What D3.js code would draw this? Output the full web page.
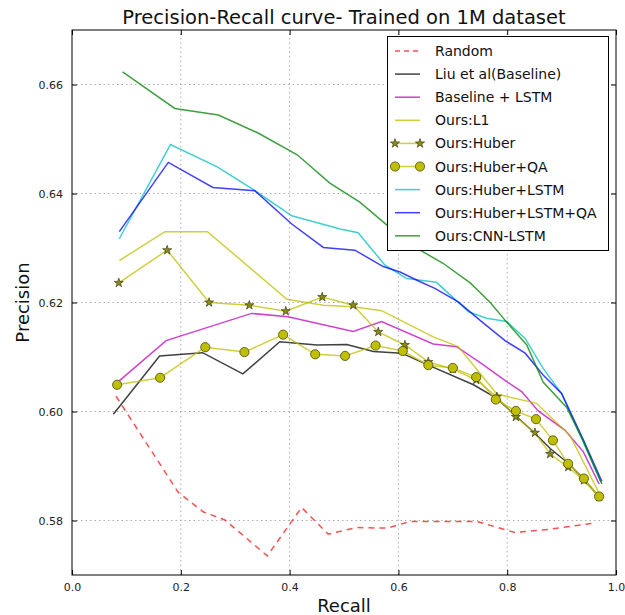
<!DOCTYPE html>
<html>
<head>
<meta charset="utf-8">
<script src="https://cdn.jsdelivr.net/npm/d3@7"></script>
<style>
  body { margin: 0; background: #fff; }
  svg { font-family: "DejaVu Sans", sans-serif; }
</style>
</head>
<body>
<div id="chart"></div>
<script>
// tick labels
var xTicks = [0.0, 0.2, 0.4, 0.6, 0.8, 1.0];
var yTicks = [0.58, 0.60, 0.62, 0.64, 0.66];

// series names, in legend order
var seriesNames = ["Random", "Liu et al(Baseline)", "Baseline + LSTM", "Ours:L1", "Ours:Huber",
                   "Ours:Huber+QA", "Ours:Huber+LSTM", "Ours:Huber+LSTM+QA", "Ours:CNN-LSTM"];

// values (recall, precision)
var randomRecall = [0.081, 0.195, 0.241, 0.281, 0.359, 0.422, 0.471, 0.523, 0.579, 0.621, 0.745, 0.814, 0.879, 0.958];
var randomPrecision = [0.6028, 0.5852, 0.5816, 0.5801, 0.5735, 0.5824, 0.5775, 0.5787, 0.5786, 0.5798, 0.5798, 0.5778, 0.5784, 0.5795];

var liuRecall = [0.076, 0.161, 0.240, 0.314, 0.382, 0.450, 0.505, 0.554, 0.606, 0.655, 0.738, 0.781, 0.818, 0.851, 0.879, 0.912, 0.940, 0.968];
var liuPrecision = [0.5995, 0.6102, 0.6108, 0.6069, 0.6128, 0.6122, 0.6123, 0.6110, 0.6107, 0.6085, 0.6049, 0.6024, 0.5990, 0.5960, 0.5932, 0.5905, 0.5877, 0.5844];

var lstmRecall = [0.083, 0.173, 0.330, 0.397, 0.517, 0.569, 0.664, 0.707, 0.753, 0.799, 0.827, 0.857, 0.906, 0.940, 0.969];
var lstmPrecision = [0.6053, 0.6130, 0.6180, 0.6174, 0.6147, 0.6165, 0.6124, 0.6119, 0.6088, 0.6055, 0.6036, 0.6001, 0.5966, 0.5926, 0.5867];

var l1Recall = [0.087, 0.171, 0.249, 0.395, 0.462, 0.517, 0.569, 0.664, 0.710, 0.781, 0.854, 0.885, 0.915, 0.969];
var l1Precision = [0.6277, 0.6330, 0.6330, 0.6206, 0.6195, 0.6192, 0.6185, 0.6137, 0.6119, 0.6032, 0.6015, 0.5985, 0.5957, 0.5850];

var huberRecall = [0.086, 0.175, 0.252, 0.326, 0.393, 0.460, 0.517, 0.563, 0.612, 0.655, 0.700, 0.743, 0.781, 0.816, 0.851, 0.879, 0.912, 0.941, 0.969];
var huberPrecision = [0.6236, 0.6296, 0.6200, 0.6195, 0.6184, 0.6210, 0.6195, 0.6146, 0.6122, 0.6091, 0.6078, 0.6058, 0.6027, 0.5990, 0.5961, 0.5922, 0.5898, 0.5874, 0.5843];

var huberQaRecall = [0.083, 0.162, 0.245, 0.317, 0.388, 0.447, 0.502, 0.558, 0.608, 0.655, 0.700, 0.743, 0.779, 0.816, 0.853, 0.884, 0.912, 0.941, 0.969];
var huberQaPrecision = [0.6049, 0.6062, 0.6118, 0.6109, 0.6141, 0.6105, 0.6102, 0.6121, 0.6111, 0.6085, 0.6080, 0.6063, 0.6022, 0.6001, 0.5986, 0.5947, 0.5904, 0.5877, 0.5844];

var huberLstmRecall = [0.087, 0.181, 0.267, 0.335, 0.404, 0.493, 0.526, 0.575, 0.615, 0.670, 0.729, 0.762, 0.799, 0.833, 0.866, 0.900, 0.934, 0.972];
var huberLstmPrecision = [0.6317, 0.6490, 0.6449, 0.6406, 0.6359, 0.6335, 0.6328, 0.6269, 0.6244, 0.6237, 0.6183, 0.6171, 0.6165, 0.6134, 0.6079, 0.6033, 0.5957, 0.5871];

var huberLstmQaRecall = [0.087, 0.177, 0.259, 0.336, 0.404, 0.462, 0.520, 0.572, 0.603, 0.640, 0.667, 0.710, 0.753, 0.796, 0.833, 0.866, 0.900, 0.940, 0.974];
var huberLstmQaPrecision = [0.6330, 0.6457, 0.6411, 0.6405, 0.6344, 0.6301, 0.6296, 0.6266, 0.6256, 0.6238, 0.6226, 0.6201, 0.6165, 0.6130, 0.6107, 0.6067, 0.6033, 0.5948, 0.5872];

var cnnRecall = [0.093, 0.189, 0.269, 0.342, 0.414, 0.474, 0.529, 0.579, 0.640, 0.682, 0.732, 0.768, 0.799, 0.836, 0.866, 0.909, 0.939, 0.974];
var cnnPrecision = [0.6623, 0.6556, 0.6544, 0.6511, 0.6471, 0.6419, 0.6384, 0.6342, 0.6296, 0.6272, 0.6236, 0.6201, 0.6164, 0.6122, 0.6054, 0.6008, 0.5948, 0.5867];

var width = 625, height = 615;
var margin = { top: 30, right: 9, bottom: 40, left: 72 };

var svg = d3.select("#chart").append("svg")
    .attr("width", width)
    .attr("height", height);

var x = d3.scaleLinear().domain([0, 1]).range([margin.left, width - margin.right]);
var y = d3.scaleLinear().domain([0.57, 0.67]).range([height - margin.bottom, margin.top]);

// dotted grid
svg.append("g").selectAll("line.gx")
    .data(xTicks.slice(1, -1))
    .enter().append("line")
    .attr("x1", function(d) { return x(d); })
    .attr("x2", function(d) { return x(d); })
    .attr("y1", y(0.57)).attr("y2", y(0.67))
    .attr("stroke", "#9a9a9a").attr("stroke-width", 0.8)
    .attr("stroke-dasharray", "1.5,3");
svg.append("g").selectAll("line.gy")
    .data(yTicks)
    .enter().append("line")
    .attr("y1", function(d) { return y(d); })
    .attr("y2", function(d) { return y(d); })
    .attr("x1", x(0)).attr("x2", x(1))
    .attr("stroke", "#9a9a9a").attr("stroke-width", 0.8)
    .attr("stroke-dasharray", "1.5,3");

// axes, ticks pointing inwards like matplotlib classic
var fmt = d3.format(".1f");
var fmtY = d3.format(".2f");
svg.append("g")
    .attr("transform", "translate(0," + y(0.57) + ")")
    .call(d3.axisBottom(x).tickValues(xTicks).tickFormat(fmt).tickSizeInner(-5).tickSizeOuter(0).tickPadding(8));
svg.append("g")
    .attr("transform", "translate(" + x(0) + ",0)")
    .call(d3.axisLeft(y).tickValues(yTicks).tickFormat(fmtY).tickSizeInner(-5).tickSizeOuter(0).tickPadding(9));
svg.append("g")
    .attr("transform", "translate(0," + y(0.67) + ")")
    .call(d3.axisTop(x).tickValues(xTicks).tickFormat("").tickSizeInner(-5).tickSizeOuter(0));
svg.append("g")
    .attr("transform", "translate(" + x(1) + ",0)")
    .call(d3.axisRight(y).tickValues(yTicks).tickFormat("").tickSizeInner(-5).tickSizeOuter(0));

svg.selectAll(".domain").attr("stroke", "none");
svg.selectAll(".tick line").attr("stroke", "#000");
svg.selectAll(".tick text").attr("font-size", 11).attr("fill", "#222")
    .attr("font-family", "DejaVu Sans, sans-serif");

// frame
svg.append("rect")
    .attr("x", x(0)).attr("y", y(0.67))
    .attr("width", x(1) - x(0)).attr("height", y(0.57) - y(0.67))
    .attr("fill", "none").attr("stroke", "#000").attr("stroke-width", 1);

// series styles
var series = [
    { name: seriesNames[0], rx: randomRecall, py: randomPrecision, color: "#f01818", dash: "6,5", marker: null },
    { name: seriesNames[1], rx: liuRecall, py: liuPrecision, color: "#000000", dash: null, marker: null },
    { name: seriesNames[2], rx: lstmRecall, py: lstmPrecision, color: "#bf00bf", dash: null, marker: null },
    { name: seriesNames[3], rx: l1Recall, py: l1Precision, color: "#bfbf00", dash: null, marker: null },
    { name: seriesNames[4], rx: huberRecall, py: huberPrecision, color: "#bfbf00", dash: null, marker: "star" },
    { name: seriesNames[5], rx: huberQaRecall, py: huberQaPrecision, color: "#bfbf00", dash: null, marker: "circle" },
    { name: seriesNames[6], rx: huberLstmRecall, py: huberLstmPrecision, color: "#00bfbf", dash: null, marker: null },
    { name: seriesNames[7], rx: huberLstmQaRecall, py: huberLstmQaPrecision, color: "#0000ff", dash: null, marker: null },
    { name: seriesNames[8], rx: cnnRecall, py: cnnPrecision, color: "#008000", dash: null, marker: null }
];

var line = d3.line()
    .x(function(d) { return x(d[0]); })
    .y(function(d) { return y(d[1]); });

var star = d3.symbol().type(d3.symbolStar).size(26);

function drawMarker(g, kind, px, py) {
    if (kind === "circle") {
        g.append("circle").attr("cx", px).attr("cy", py).attr("r", 4.6)
            .attr("fill", "#bfbf00").attr("stroke", "#4a4a10").attr("stroke-width", 0.8);
    } else if (kind === "star") {
        g.append("path").attr("d", star).attr("transform", "translate(" + px + "," + py + ")")
            .attr("fill", "#8c8c10").attr("stroke", "#2a2a10").attr("stroke-width", 0.6);
    }
}

var plot = svg.append("g");
series.forEach(function(s) {
    var pts = s.rx.map(function(r, i) { return [r, s.py[i]]; });
    plot.append("path")
        .datum(pts)
        .attr("d", line)
        .attr("fill", "none")
        .attr("stroke", s.color)
        .attr("stroke-opacity", 0.75)
        .attr("stroke-width", 1.5)
        .attr("stroke-dasharray", s.dash);
    if (s.marker) {
        var mg = plot.append("g");
        pts.forEach(function(p) { drawMarker(mg, s.marker, x(p[0]), y(p[1])); });
    }
});

// legend
var legend = svg.append("g");
legend.append("rect")
    .attr("x", 387.5).attr("y", 36.5).attr("width", 221).attr("height", 214)
    .attr("fill", "#fff").attr("stroke", "#000").attr("stroke-width", 1);
series.forEach(function(s, i) {
    var ly = 51 + i * 23.1;
    legend.append("line")
        .attr("x1", 395).attr("x2", 420).attr("y1", ly).attr("y2", ly)
        .attr("stroke", s.color).attr("stroke-opacity", 0.75).attr("stroke-width", 1.5)
        .attr("stroke-dasharray", s.dash ? "5,4" : null);
    if (s.marker) {
        drawMarker(legend, s.marker, 395, ly);
        drawMarker(legend, s.marker, 420, ly);
    }
    legend.append("text")
        .attr("x", 435).attr("y", ly).attr("dy", "0.36em")
        .attr("font-size", 14).attr("fill", "#111")
        .text(s.name);
});

// titles
svg.append("text")
    .attr("x", (x(0) + x(1)) / 2).attr("y", 24)
    .attr("text-anchor", "middle").attr("font-size", 19.5).attr("fill", "#111")
    .text("Precision-Recall curve- Trained on 1M dataset");
svg.append("text")
    .attr("x", (x(0) + x(1)) / 2).attr("y", 612)
    .attr("text-anchor", "middle").attr("font-size", 18).attr("fill", "#111")
    .text("Recall");
svg.append("text")
    .attr("transform", "translate(29," + (y(0.57) + y(0.67)) / 2 + ") rotate(-90)")
    .attr("text-anchor", "middle").attr("font-size", 18).attr("fill", "#111")
    .text("Precision");
</script>
</body>
</html>
